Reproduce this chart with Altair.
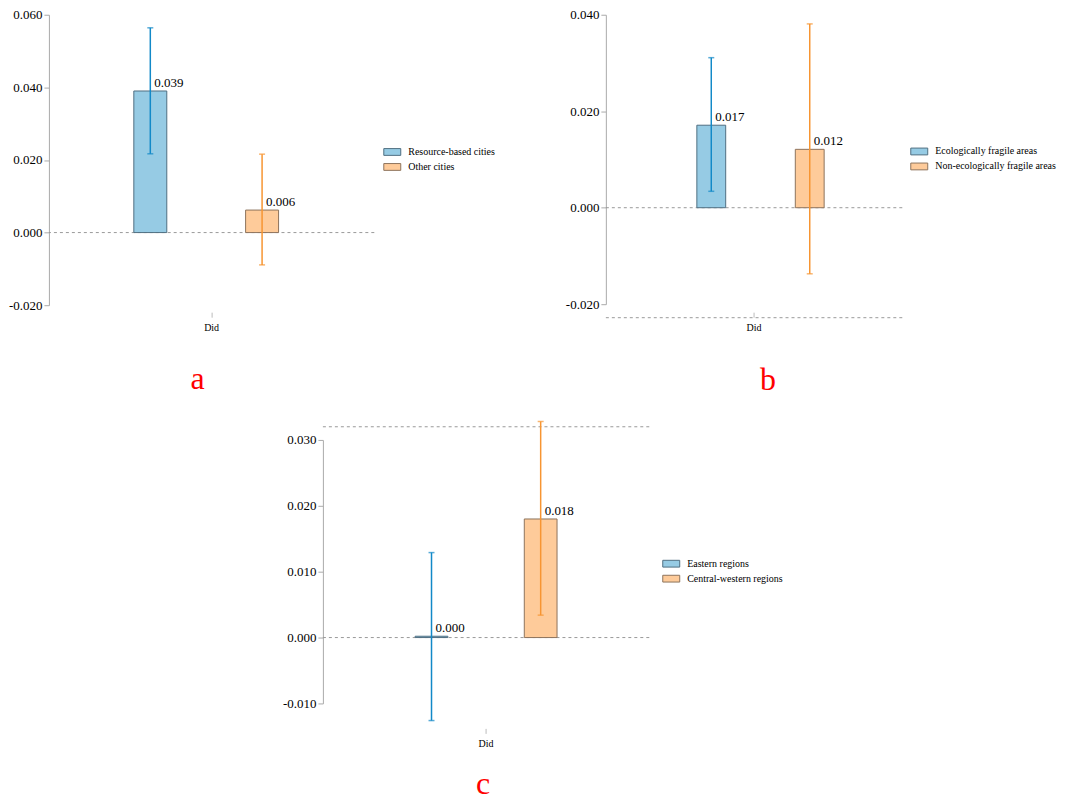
import altair as alt
import pandas as pd

# ---------------- data ----------------
term = "Did"

groups_a = ["Resource-based cities", "Other cities"]
coef_a = [0.0390, 0.0062]
lo_a = [0.0217, -0.0089]
hi_a = [0.0564, 0.0216]
refs_a = [0.0]

groups_b = ["Ecologically fragile areas", "Non-ecologically fragile areas"]
coef_b = [0.0171, 0.0121]
lo_b = [0.0034, -0.0137]
hi_b = [0.0311, 0.0381]
refs_b = [0.0, -0.0228]

groups_c = ["Eastern regions", "Central-western regions"]
coef_c = [0.0002, 0.0180]
lo_c = [-0.0126, 0.0034]
hi_c = [0.0129, 0.0328]
refs_c = [0.0, 0.032]

ticks_a = [-0.02, 0.0, 0.02, 0.04, 0.06]
ticks_b = [-0.02, 0.0, 0.02, 0.04]
ticks_c = [-0.01, 0.0, 0.01, 0.02, 0.03]

# ---------------- style ----------------
FONT = "Liberation Serif"
FILLS = ["#96CBE4", "#FECB9A"]
STROKES = ["#4F6E82", "#8E735C"]
ERRS = ["#1289C8", "#F79532"]


def panel(groups, coef, lo, hi, refs, ticks, W, H, letter, xoff, toff, tdx,
          lgx, pi, po, al):
    df = pd.DataFrame({"group": groups, "coef": coef, "lo": lo, "hi": hi})
    rdf = pd.DataFrame({"v": refs})
    tdf = pd.DataFrame({"term": [term]})
    ydom = [min(ticks), max(ticks)]
    yscale = alt.Scale(domain=ydom, nice=False, zero=False)
    yaxis = alt.Axis(values=ticks, title=None, grid=False,
                     labelExpr="replace(format(datum.value, '.3f'), '\u2212', '-')",
                     labelFont=FONT, labelFontSize=13, labelColor="black",
                     domainColor="#AAAAAA", tickColor="#AAAAAA", tickSize=5,
                     labelPadding=2)
    gx = alt.X("group:N", sort=groups, axis=None,
               scale=alt.Scale(type="band", domain=groups, align=al,
                               paddingInner=pi, paddingOuter=po))
    ecol = alt.Color("group:N", sort=groups,
                     scale=alt.Scale(domain=groups, range=ERRS), legend=None)

    base = alt.Chart(df)
    zero = alt.Chart(rdf).mark_rule(color="#9A9A9A", strokeDash=[3, 3],
                                    strokeWidth=1).encode(
        y=alt.Y("v:Q", scale=yscale, axis=yaxis))
    bars = base.mark_bar(strokeWidth=1).encode(
        x=gx,
        y=alt.Y("coef:Q", scale=yscale, axis=yaxis),
        fill=alt.Fill("group:N", sort=groups,
                      scale=alt.Scale(domain=groups, range=FILLS),
                      legend=alt.Legend(
                          title=None, orient="none", legendX=W + lgx,
                          legendY=H / 2 - 17,
                          symbolType="M-1,-0.4L1,-0.4L1,0.4L-1,0.4Z",
                          symbolSize=289, symbolStrokeWidth=1,
                          symbolStrokeColor="#707070",
                          labelFont=FONT, labelFontSize=10,
                          labelColor="black", labelOffset=7,
                          rowPadding=0)),
        stroke=alt.Stroke("group:N", sort=groups,
                          scale=alt.Scale(domain=groups, range=STROKES),
                          legend=None))
    err = base.mark_rule(strokeWidth=1.5).encode(
        x=gx, y=alt.Y("lo:Q", scale=yscale, axis=yaxis), y2="hi:Q",
        color=ecol)
    cap_lo = base.mark_tick(thickness=1.5, size=6, orient="horizontal").encode(
        x=gx, y=alt.Y("lo:Q", scale=yscale, axis=yaxis), color=ecol)
    cap_hi = base.mark_tick(thickness=1.5, size=6, orient="horizontal").encode(
        x=gx, y=alt.Y("hi:Q", scale=yscale, axis=yaxis), color=ecol)
    labels = base.mark_text(align="left", baseline="bottom", dx=4, dy=-1,
                            font=FONT, fontSize=13, color="black").encode(
        x=gx, y=alt.Y("coef:Q", scale=yscale, axis=yaxis),
        text=alt.Text("coef:Q", format=".3f"))

    marks = alt.layer(zero, bars, err, cap_lo, cap_hi, labels)

    did = alt.Chart(tdf).mark_point(opacity=0).encode(
        x=alt.X("term:N", title=None,
                scale=alt.Scale(type="band", paddingInner=0, paddingOuter=0),
                axis=alt.Axis(labelAngle=0, domain=False, tickColor="#BBBBBB",
                              tickSize=5, offset=xoff, labelFont=FONT,
                              labelFontSize=10, labelColor="black",
                              labelPadding=5)))

    return alt.layer(marks, did).resolve_scale(x="independent").properties(
        width=W, height=H,
        title=alt.TitleParams(letter, orient="bottom", frame="group",
                              anchor="middle", color="red", fontSize=32,
                              font=FONT, fontWeight="normal", offset=toff,
                              dx=tdx))


pa = panel(groups_a, coef_a, lo_a, hi_a, refs_a, ticks_a, 326, 291, "a",
           7, 32, -14, 9, 0.705, 0.808, 0.47)
pb = panel(groups_b, coef_b, lo_b, hi_b, refs_b, ticks_b, 297, 290, "b",
           8, 33, 14, 8, 0.707, 0.859, 0.538)
pc = panel(groups_c, coef_c, lo_c, hi_c, refs_c, ticks_c, 327, 264, "c",
           25, 21, -3, 13, 0.7, 0.845, 0.5)

indep = dict(fill="independent", stroke="independent", color="independent",
             x="independent", y="independent")
top = alt.hconcat(pa, pb, spacing=70).resolve_scale(**indep)
chart = (alt.vconcat(top, pc, spacing=24, center=True)
         .resolve_scale(**indep)
         .properties(padding={"left": 0, "top": 0, "right": 0, "bottom": 0})
         .configure(font=FONT)
         .configure_view(stroke=None))

chart.save("out.html", embed_options={"renderer": "svg", "actions": False})
